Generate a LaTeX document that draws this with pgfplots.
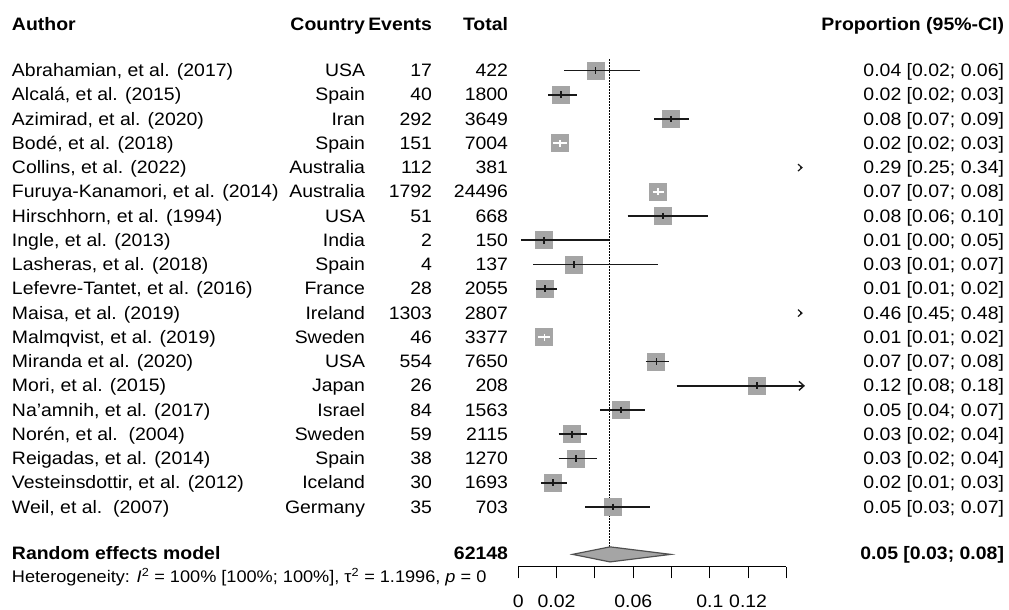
\documentclass[border=0pt]{standalone}
\usepackage{fontspec}
\setmainfont{Liberation Sans}[FakeStretch=1.08]
\usepackage{pgfplots}
\pgfplotsset{compat=1.18}
\usetikzlibrary{arrows.meta}
\definecolor{sq}{RGB}{165,165,165}
\definecolor{ci}{RGB}{25,25,25}
\definecolor{dm}{RGB}{80,80,80}

% box centred on (estimate, row); half side 9px
\newcommand\BOX[2]{\addplot[fill=sq, draw=none] coordinates {({#1-0.0047},{#2-0.371}) ({#1+0.0047},{#2-0.371}) ({#1+0.0047},{#2+0.371}) ({#1-0.0047},{#2+0.371})} -- cycle;}
% confidence interval (row, lower, upper)
\newcommand\CI[4][ci]{\addplot[#1, line width=1.8pt] coordinates {(#3,#2) (#4,#2)};}

\newcommand\R[6]{%
  \node[anchor=base west] at (12pt,{533.45pt-24.25pt*#1}) {#2};
  \node[anchor=base east] at (365pt,{533.45pt-24.25pt*#1}) {#3};
  \node[anchor=base east] at (432pt,{533.45pt-24.25pt*#1}) {#4};
  \node[anchor=base east] at (508pt,{533.45pt-24.25pt*#1}) {#5};
  \node[anchor=base east] at (1004pt,{533.45pt-24.25pt*#1}) {#6};
}

\begin{document}
\begin{tikzpicture}[font=\fontsize{18pt}{21pt}\selectfont, inner sep=0pt, outer sep=0pt]
\path[use as bounding box] (0,0) rectangle (1009pt,610pt);
\begin{axis}[
  at={(518.3pt,43.25pt)}, anchor=south west,
  scale only axis, width=268.1pt, height=566.75pt,
  xmin=0, xmax=0.14, ymin=-20.46, ymax=2.911,
  enlargelimits=false, clip=false,
  axis x line*=bottom, axis y line=none,
  xtick={0,0.02,0.04,0.06,0.08,0.1,0.12,0.14},
  xticklabels={0,0.02,,0.06,,0.1,0.12,},
  tick align=outside, major tick length=11.6pt,
  every tick/.style={black, line width=1.1pt},
  axis line style={black, line width=1.1pt},
  xticklabel style={anchor=base, yshift=-29pt},
  ytick=\empty,
]
% random-effects reference line
\addplot[black, line width=1.2pt, dash pattern=on 1.4pt off 1.6pt] coordinates {(0.0475,0.466) (0.0475,-19.64)};
% boxes (estimate, -row)
\BOX{0.0404}{0}
\BOX{0.0223}{-1}
\BOX{0.0797}{-2}
\BOX{0.0218}{-3}
\BOX{0.0730}{-5}
\BOX{0.0757}{-6}
\BOX{0.0133}{-7}
\BOX{0.0291}{-8}
\BOX{0.0138}{-9}
\BOX{0.0136}{-11}
\BOX{0.0721}{-12}
\BOX{0.1245}{-13}
\BOX{0.0535}{-14}
\BOX{0.0279}{-15}
\BOX{0.0300}{-16}
\BOX{0.0180}{-17}
\BOX{0.0496}{-18}
% confidence intervals (-row, lower, upper)
\CI{0}{0.0239}{0.0637}
\CI{-1}{0.0157}{0.0308}
\CI{-2}{0.0710}{0.0893}
\CI{-6}{0.0571}{0.0992}
\CI{-7}{0.0014}{0.0475}
\CI{-8}{0.0078}{0.0728}
\CI{-9}{0.0092}{0.0202}
\CI{-12}{0.0665}{0.0789}
\CI{-14}{0.0428}{0.0663}
\CI{-15}{0.0211}{0.0360}
\CI{-16}{0.0211}{0.0413}
\CI{-17}{0.0120}{0.0254}
\CI{-18}{0.0350}{0.0689}
\CI[white]{-3}{0.0183}{0.0253}
\CI[white]{-5}{0.0702}{0.0761}
\CI[white]{-11}{0.0104}{0.0166}
% Mori: interval runs past the scale
\addplot[ci, line width=1.8pt, -{Straight Barb[length=5pt,width=9pt,line width=1.4pt]}] coordinates {(0.0827,-13) (0.1497,-13)};
% estimate ticks
\addplot[only marks, ci, mark=|, mark size=3.4pt, mark options={line width=1.6pt}] coordinates {
(0.0404,0) (0.0223,-1) (0.0797,-2) (0.0757,-6) (0.0133,-7) (0.0291,-8) (0.0138,-9)
(0.0721,-12) (0.1245,-13) (0.0535,-14) (0.0279,-15) (0.0300,-16) (0.0180,-17) (0.0496,-18)};
\addplot[only marks, white, mark=|, mark size=3.4pt, mark options={line width=1.4pt}] coordinates {
(0.0218,-3) (0.0730,-5) (0.0136,-11)};
% Collins and Maisa: estimate off the scale
\addplot[ci, line width=1.2pt, -{Straight Barb[length=4pt,width=7pt,line width=1.2pt]}] coordinates {(0.1470,-4) (0.1486,-4)};
\addplot[ci, line width=1.2pt, -{Straight Barb[length=4pt,width=7pt,line width=1.2pt]}] coordinates {(0.1470,-10) (0.1486,-10)};
% pooled estimate diamond
\addplot[fill=sq, draw=dm, line width=1.2pt] coordinates {(0.0283,-19.95) (0.0479,-19.64) (0.0796,-19.95) (0.0479,-20.26) (0.0283,-19.95)} -- cycle;
\end{axis}

% header
\begin{scope}[font=\fontsize{18pt}{21pt}\selectfont\bfseries]
\node[anchor=base west] at (12pt,579.5pt) {Author};
\node[anchor=base east] at (365pt,579.5pt) {Country};
\node[anchor=base east] at (432pt,579.5pt) {Events};
\node[anchor=base east] at (508pt,579.5pt) {Total};
\node[anchor=base east] at (1004pt,579.5pt) {Proportion (95\%-CI)};
\end{scope}

\R{0}{Abrahamian, et al. (2017)}{USA}{17}{422}{0.04 [0.02; 0.06]}
\R{1}{Alcalá, et al. (2015)}{Spain}{40}{1800}{0.02 [0.02; 0.03]}
\R{2}{Azimirad, et al. (2020)}{Iran}{292}{3649}{0.08 [0.07; 0.09]}
\R{3}{Bodé, et al. (2018)}{Spain}{151}{7004}{0.02 [0.02; 0.03]}
\R{4}{Collins, et al. (2022)}{Australia}{112}{381}{0.29 [0.25; 0.34]}
\R{5}{Furuya-Kanamori, et al. (2014)}{Australia}{1792}{24496}{0.07 [0.07; 0.08]}
\R{6}{Hirschhorn, et al. (1994)}{USA}{51}{668}{0.08 [0.06; 0.10]}
\R{7}{Ingle, et al. (2013)}{India}{2}{150}{0.01 [0.00; 0.05]}
\R{8}{Lasheras, et al. (2018)}{Spain}{4}{137}{0.03 [0.01; 0.07]}
\R{9}{Lefevre-Tantet, et al. (2016)}{France}{28}{2055}{0.01 [0.01; 0.02]}
\R{10}{Maisa, et al. (2019)}{Ireland}{1303}{2807}{0.46 [0.45; 0.48]}
\R{11}{Malmqvist, et al. (2019)}{Sweden}{46}{3377}{0.01 [0.01; 0.02]}
\R{12}{Miranda et al. (2020)}{USA}{554}{7650}{0.07 [0.07; 0.08]}
\R{13}{Mori, et al. (2015)}{Japan}{26}{208}{0.12 [0.08; 0.18]}
\R{14}{Na'amnih, et al. (2017)}{Israel}{84}{1563}{0.05 [0.04; 0.07]}
\R{15}{Norén, et al.\ \ (2004)}{Sweden}{59}{2115}{0.03 [0.02; 0.04]}
\R{16}{Reigadas, et al. (2014)}{Spain}{38}{1270}{0.03 [0.02; 0.04]}
\R{17}{Vesteinsdottir, et al. (2012)}{Iceland}{30}{1693}{0.02 [0.01; 0.03]}
\R{18}{Weil, et al.\ \ (2007)}{Germany}{35}{703}{0.05 [0.03; 0.07]}

% pooled row
\begin{scope}[font=\fontsize{18pt}{21pt}\selectfont\bfseries]
\node[anchor=base west] at (12pt,50.5pt) {Random effects model};
\node[anchor=base east] at (508pt,50.5pt) {62148};
\node[anchor=base east] at (1004pt,50.5pt) {0.05 [0.03; 0.08]};
\end{scope}
\node[anchor=base west, font=\fontsize{16.8pt}{19pt}\selectfont] at (12pt,27pt)
  {Heterogeneity: \textit{I}\textsuperscript{2} = 100\% [100\%; 100\%], τ\textsuperscript{2} = 1.1996, \textit{p} = 0};
\end{tikzpicture}
\end{document}
